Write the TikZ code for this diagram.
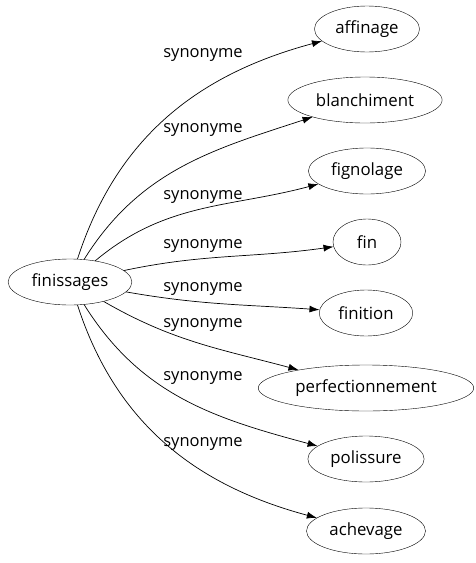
\documentclass[tikz,border=0pt]{standalone}
\usepackage{fontspec}
\setmainfont{Open Sans}
\usetikzlibrary{shapes.geometric,arrows.meta}

\tikzstyle{every picture}+=[>={Latex[length=10pt,width=7pt]}]
\tikzset{
	word/.style={draw, ellipse, inner xsep=5.5pt, minimum height=46pt, font=\fontsize{16.8}{18}\selectfont},
	rel/.style={font=\fontsize{16.5}{18}\selectfont, inner sep=0pt},
	syn/.style={->, line width=0.7pt},
}

\begin{document}
\begin{tikzpicture}[x=1pt, y=-1pt]
	\useasboundingbox (0,0) rectangle (476,563) ;
	\node[word] (fini) at (70,282) {finissages} ;
	\node[word] (affi) at (367,29) {affinage} ;
	\node[word] (blan) at (365,100) {blanchiment} ;
	\node[word] (fign) at (367,171) {fignolage} ;
	\node[word, minimum width=68pt] (fin) at (367,242) {fin} ;
	\node[word] (fint) at (366,313) {finition} ;
	\node[word] (perf) at (366,388) {perfectionnement} ;
	\node[word] (poli) at (366,459) {polissure} ;
	\node[word] (ache) at (366,531) {achevage} ;
	% liens
	\draw[syn] (fini) to[out=72, in=195] (affi) ;
	\draw[syn] (fini) to[out=58, in=198] (blan) ;
	\draw[syn] (fini) to[out=40, in=195] (fign) ;
	\draw[syn] (fini) to[out=12, in=188] (fin) ;
	\draw[syn] (fini) to[out=-10, in=176] (fint) ;
	\draw[syn] (fini) to[out=-30, in=165] (perf) ;
	\draw[syn] (fini) to[out=-58, in=165] (poli) ;
	\draw[syn] (fini) to[out=-72, in=165] (ache) ;
	% etiquettes
	\node[rel] (l1) at (203,55) {synonyme} ;
	\node[rel] (l2) at (203,130) {synonyme} ;
	\node[rel] (l3) at (203,197) {synonyme} ;
	\node[rel] (l4) at (203,246) {synonyme} ;
	\node[rel] (l5) at (203,289) {synonyme} ;
	\node[rel] (l6) at (203,325) {synonyme} ;
	\node[rel] (l7) at (203,378) {synonyme} ;
	\node[rel] (l8) at (203,444) {synonyme} ;
\end{tikzpicture}
\end{document}
